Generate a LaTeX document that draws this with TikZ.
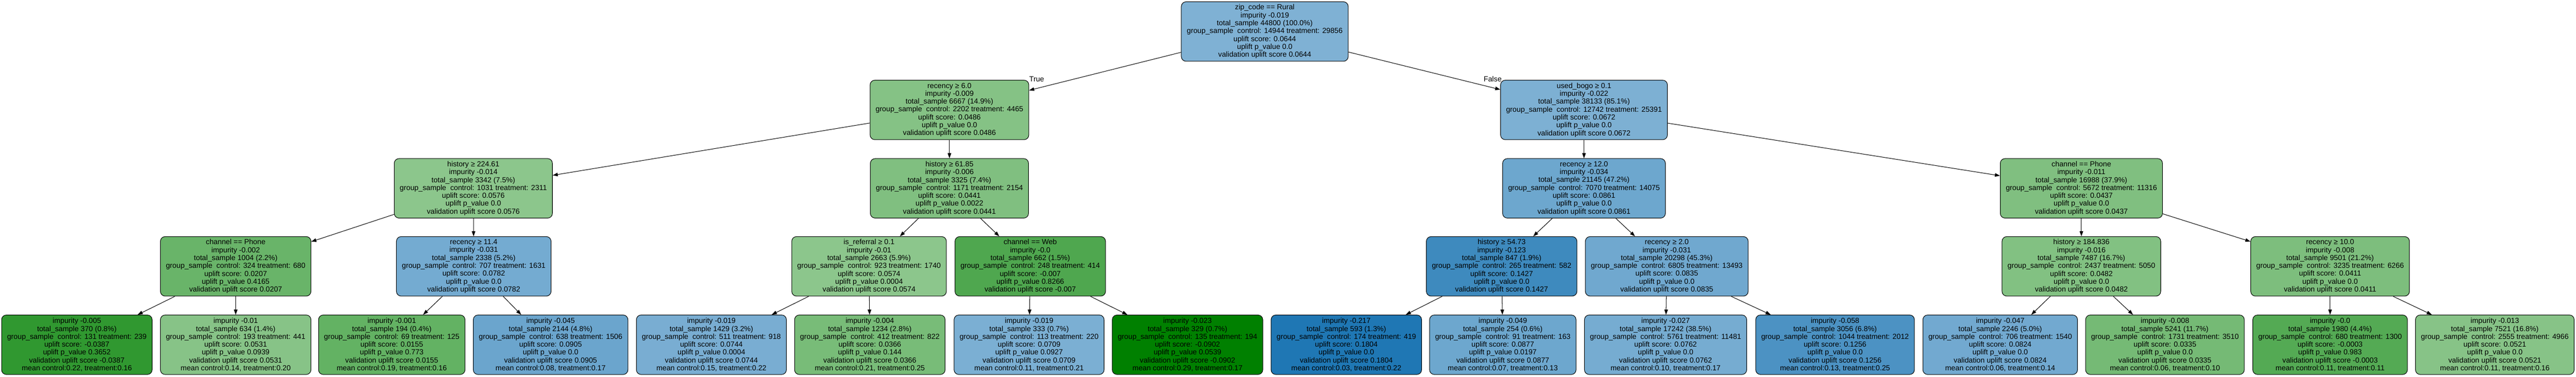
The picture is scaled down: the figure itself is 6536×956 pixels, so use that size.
\documentclass[tikz,border=0pt]{standalone}
\usepackage{fontspec}
\setmainfont{Liberation Sans}
\usetikzlibrary{arrows.meta,positioning}
\definecolor{upgreen}{HTML}{008000}
\definecolor{upblue}{HTML}{1F77B4}
\tikzstyle{un} = [rectangle, draw=black, rounded corners=12pt, align=center,
    inner xsep=14pt, inner ysep=0pt, minimum height=151pt,
    font=\fontsize{18.6}{20}\selectfont]
\begin{document}
\begin{tikzpicture}[->,>={Triangle[length=13pt,width=9pt]},line width=1.33pt,
                    x=1pt,y=-1pt]
  \useasboundingbox (0,0) rectangle (6536,956);
  % root and first split
  \node[un,fill=upblue!57]   (1) at (3209,80)  {zip\_code == Rural\\impurity -0.019\\total\_sample 44800 (100.0\%)\\group\_sample\ \ control: 14944 treatment: 29856\\uplift score: 0.0644\\uplift p\_value 0.0\\validation uplift score 0.0644};
  \node[un,fill=upgreen!48]  (2) at (2409,279) {recency ≥ 6.0\\impurity -0.009\\total\_sample 6667 (14.9\%)\\group\_sample\ \ control: 2202 treatment: 4465\\uplift score: 0.0486\\uplift p\_value 0.0\\validation uplift score 0.0486};
  \node[un,fill=upblue!58]   (3) at (4019,279) {used\_bogo ≥ 0.1\\impurity -0.022\\total\_sample 38133 (85.1\%)\\group\_sample\ \ control: 12742 treatment: 25391\\uplift score: 0.0672\\uplift p\_value 0.0\\validation uplift score 0.0672};
  \node[inner sep=0pt,anchor=base west,font=\fontsize{18.6}{20}\selectfont] (t) at ([yshift=-4pt]2.north east) {True};
  \node[inner sep=0pt,anchor=base east,font=\fontsize{18.6}{20}\selectfont] (f) at ([xshift=4pt,yshift=-4pt]3.north west) {False};
  % second level
  \node[un,fill=upgreen!45]  (4) at (1201,478) {history ≥ 224.61\\impurity -0.014\\total\_sample 3342 (7.5\%)\\group\_sample\ \ control: 1031 treatment: 2311\\uplift score: 0.0576\\uplift p\_value 0.0\\validation uplift score 0.0576};
  \node[un,fill=upgreen!50]  (5) at (2409,478) {history ≥ 61.85\\impurity -0.006\\total\_sample 3325 (7.4\%)\\group\_sample\ \ control: 1171 treatment: 2154\\uplift score: 0.0441\\uplift p\_value 0.0022\\validation uplift score 0.0441};
  \node[un,fill=upblue!65]   (6) at (4019,478) {recency ≥ 12.0\\impurity -0.034\\total\_sample 21145 (47.2\%)\\group\_sample\ \ control: 7070 treatment: 14075\\uplift score: 0.0861\\uplift p\_value 0.0\\validation uplift score 0.0861};
  \node[un,fill=upgreen!50]  (7) at (5281,478) {channel == Phone\\impurity -0.011\\total\_sample 16988 (37.9\%)\\group\_sample\ \ control: 5672 treatment: 11316\\uplift score: 0.0437\\uplift p\_value 0.0\\validation uplift score 0.0437};
  % third level
  \node[un,fill=upgreen!59]  (8) at (598,676)  {channel == Phone\\impurity -0.002\\total\_sample 1004 (2.2\%)\\group\_sample\ \ control: 324 treatment: 680\\uplift score: 0.0207\\uplift p\_value 0.4165\\validation uplift score 0.0207};
  \node[un,fill=upblue!62]   (9) at (1202,676) {recency ≥ 11.4\\impurity -0.031\\total\_sample 2338 (5.2\%)\\group\_sample\ \ control: 707 treatment: 1631\\uplift score: 0.0782\\uplift p\_value 0.0\\validation uplift score 0.0782};
  \node[un,fill=upgreen!45] (10) at (2205,676) {is\_referral ≥ 0.1\\impurity -0.01\\total\_sample 2663 (5.9\%)\\group\_sample\ \ control: 923 treatment: 1740\\uplift score: 0.0574\\uplift p\_value 0.0004\\validation uplift score 0.0574};
  \node[un,fill=upgreen!69] (11) at (2614,676) {channel == Web\\impurity -0.0\\total\_sample 662 (1.5\%)\\group\_sample\ \ control: 248 treatment: 414\\uplift score: -0.007\\uplift p\_value 0.8266\\validation uplift score -0.007};
  \node[un,fill=upblue!86]  (12) at (3810,676) {history ≥ 54.73\\impurity -0.123\\total\_sample 847 (1.9\%)\\group\_sample\ \ control: 265 treatment: 582\\uplift score: 0.1427\\uplift p\_value 0.0\\validation uplift score 0.1427};
  \node[un,fill=upblue!64]  (13) at (4229,676) {recency ≥ 2.0\\impurity -0.031\\total\_sample 20298 (45.3\%)\\group\_sample\ \ control: 6805 treatment: 13493\\uplift score: 0.0835\\uplift p\_value 0.0\\validation uplift score 0.0835};
  \node[un,fill=upgreen!49] (14) at (5281,676) {history ≥ 184.836\\impurity -0.016\\total\_sample 7487 (16.7\%)\\group\_sample\ \ control: 2437 treatment: 5050\\uplift score: 0.0482\\uplift p\_value 0.0\\validation uplift score 0.0482};
  \node[un,fill=upgreen!51] (15) at (5912,676) {recency ≥ 10.0\\impurity -0.008\\total\_sample 9501 (21.2\%)\\group\_sample\ \ control: 3235 treatment: 6266\\uplift score: 0.0411\\uplift p\_value 0.0\\validation uplift score 0.0411};
  % leaves
  \node[un,fill=upgreen!81] (16) at (195,875)  {impurity -0.005\\total\_sample 370 (0.8\%)\\group\_sample\ \ control: 131 treatment: 239\\uplift score: -0.0387\\uplift p\_value 0.3652\\validation uplift score -0.0387\\mean control:0.22, treatment:0.16};
  \node[un,fill=upgreen!47] (17) at (598,875)  {impurity -0.01\\total\_sample 634 (1.4\%)\\group\_sample\ \ control: 193 treatment: 441\\uplift score: 0.0531\\uplift p\_value 0.0939\\validation uplift score 0.0531\\mean control:0.14, treatment:0.20};
  \node[un,fill=upgreen!61] (18) at (994,875)  {impurity -0.001\\total\_sample 194 (0.4\%)\\group\_sample\ \ control: 69 treatment: 125\\uplift score: 0.0155\\uplift p\_value 0.773\\validation uplift score 0.0155\\mean control:0.19, treatment:0.16};
  \node[un,fill=upblue!66]  (19) at (1397,875) {impurity -0.045\\total\_sample 2144 (4.8\%)\\group\_sample\ \ control: 638 treatment: 1506\\uplift score: 0.0905\\uplift p\_value 0.0\\validation uplift score 0.0905\\mean control:0.08, treatment:0.17};
  \node[un,fill=upblue!60]  (20) at (1805,875) {impurity -0.019\\total\_sample 1429 (3.2\%)\\group\_sample\ \ control: 511 treatment: 918\\uplift score: 0.0744\\uplift p\_value 0.0004\\validation uplift score 0.0744\\mean control:0.15, treatment:0.22};
  \node[un,fill=upgreen!53] (21) at (2207,875) {impurity -0.004\\total\_sample 1234 (2.8\%)\\group\_sample\ \ control: 412 treatment: 822\\uplift score: 0.0366\\uplift p\_value 0.144\\validation uplift score 0.0366\\mean control:0.21, treatment:0.25};
  \node[un,fill=upblue!59]  (22) at (2611,875) {impurity -0.019\\total\_sample 333 (0.7\%)\\group\_sample\ \ control: 113 treatment: 220\\uplift score: 0.0709\\uplift p\_value 0.0927\\validation uplift score 0.0709\\mean control:0.11, treatment:0.21};
  \node[un,fill=upgreen]    (23) at (3013,875) {impurity -0.023\\total\_sample 329 (0.7\%)\\group\_sample\ \ control: 135 treatment: 194\\uplift score: -0.0902\\uplift p\_value 0.0539\\validation uplift score -0.0902\\mean control:0.29, treatment:0.17};
  \node[un,fill=upblue]     (24) at (3416,875) {impurity -0.217\\total\_sample 593 (1.3\%)\\group\_sample\ \ control: 174 treatment: 419\\uplift score: 0.1804\\uplift p\_value 0.0\\validation uplift score 0.1804\\mean control:0.03, treatment:0.22};
  \node[un,fill=upblue!65]  (25) at (3813,875) {impurity -0.049\\total\_sample 254 (0.6\%)\\group\_sample\ \ control: 91 treatment: 163\\uplift score: 0.0877\\uplift p\_value 0.0197\\validation uplift score 0.0877\\mean control:0.07, treatment:0.13};
  \node[un,fill=upblue!61]  (26) at (4226,875) {impurity -0.027\\total\_sample 17242 (38.5\%)\\group\_sample\ \ control: 5761 treatment: 11481\\uplift score: 0.0762\\uplift p\_value 0.0\\validation uplift score 0.0762\\mean control:0.10, treatment:0.17};
  \node[un,fill=upblue!80]  (27) at (4656,875) {impurity -0.058\\total\_sample 3056 (6.8\%)\\group\_sample\ \ control: 1044 treatment: 2012\\uplift score: 0.1256\\uplift p\_value 0.0\\validation uplift score 0.1256\\mean control:0.13, treatment:0.25};
  \node[un,fill=upblue!63]  (28) at (5075,875) {impurity -0.047\\total\_sample 2246 (5.0\%)\\group\_sample\ \ control: 706 treatment: 1540\\uplift score: 0.0824\\uplift p\_value 0.0\\validation uplift score 0.0824\\mean control:0.06, treatment:0.14};
  \node[un,fill=upgreen!54] (29) at (5493,875) {impurity -0.008\\total\_sample 5241 (11.7\%)\\group\_sample\ \ control: 1731 treatment: 3510\\uplift score: 0.0335\\uplift p\_value 0.0\\validation uplift score 0.0335\\mean control:0.06, treatment:0.10};
  \node[un,fill=upgreen!67] (30) at (5912,875) {impurity -0.0\\total\_sample 1980 (4.4\%)\\group\_sample\ \ control: 680 treatment: 1300\\uplift score: -0.0003\\uplift p\_value 0.983\\validation uplift score -0.0003\\mean control:0.11, treatment:0.11};
  \node[un,fill=upgreen!47] (31) at (6330,875) {impurity -0.013\\total\_sample 7521 (16.8\%)\\group\_sample\ \ control: 2555 treatment: 4966\\uplift score: 0.0521\\uplift p\_value 0.0\\validation uplift score 0.0521\\mean control:0.11, treatment:0.16};

  \path (1) edge (2) edge (3)
  (2) edge (4) edge (5)
  (3) edge (6) edge (7)
  (4) edge (8) edge (9)
  (5) edge (10) edge (11)
  (6) edge (12) edge (13)
  (7) edge (14) edge (15)
  (8) edge (16) edge (17)
  (9) edge (18) edge (19)
  (10) edge (20) edge (21)
  (11) edge (22) edge (23)
  (12) edge (24) edge (25)
  (13) edge (26) edge (27)
  (14) edge (28) edge (29)
  (15) edge (30) edge (31);
\end{tikzpicture}
\end{document}
